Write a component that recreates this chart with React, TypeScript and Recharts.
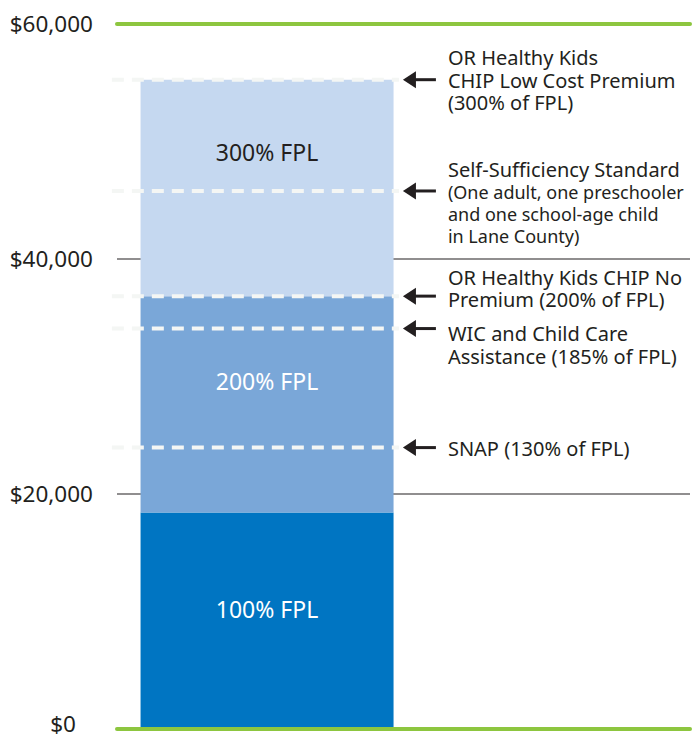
import { ComposedChart, Bar, XAxis, YAxis, CartesianGrid, ReferenceLine } from 'recharts'

// Income levels (family of three)
const FPL_LABELS = ['100% FPL', '200% FPL', '300% FPL']
const FPL_TOPS = [18420, 36840, 55260]
const Y_TICKS = [0, 20000, 40000, 60000]

// Program thresholds marked with dashed lines
const MARKER_VALUES = [55260, 45790, 36840, 34080, 23950]
const MARKER_TITLES = [
  ['OR Healthy Kids', 'CHIP Low Cost Premium', '(300% of FPL)'],
  ['Self-Sufficiency Standard'],
  ['OR Healthy Kids CHIP No', 'Premium (200% of FPL)'],
  ['WIC and Child Care', 'Assistance (185% of FPL)'],
  ['SNAP (130% of FPL)'],
]
const MARKER_NOTES = [
  [],
  ['(One adult, one preschooler', 'and one school-age child', 'in Lane County)'],
  [],
  [],
  [],
]

// layout only
const MARKER_FIRST_DY = [-22, -21, -19, 5, 1]
const SEGMENT_LABEL_DY = [-12, -23, -36]
const SEGMENT_COLORS = ['#0075c2', '#7aa7d8', '#c5d8f0']
const SEGMENT_TEXT = ['#ffffff', '#ffffff', '#231f20']
const BAR_X = 26.1
const DASH_FROM = -0.9
const DASH_TO = 49.2
const FONT = '"Noto Sans", "Open Sans", sans-serif'
const TEXT_COLOR = '#231f20'

const row: Record<string, number> = { x: BAR_X }
FPL_TOPS.forEach((top, i) => {
  row['s' + i] = top - (i > 0 ? FPL_TOPS[i - 1] : 0)
})
const chartData = [row]

const formatDollar = (v: number) => '$' + v.toLocaleString('en-US')

function YTick(props: any) {
  const { x, y, payload } = props
  // the $0 label sits further in (and higher, clear of the page edge) than the others
  const isZero = payload.value === 0
  return (
    <text
      x={x + (isZero ? -17 : 0)}
      y={y + (isZero ? -6 : -1)}
      textAnchor="end"
      dominantBaseline="central"
      fontSize={22.5}
      fill={TEXT_COLOR}
      fontFamily={FONT}
    >
      {formatDollar(payload.value)}
    </text>
  )
}

const segmentLabel = (i: number) => (props: any) => {
  const { x, y, width, height } = props
  return (
    <text
      x={x + width / 2}
      y={y + height / 2 + SEGMENT_LABEL_DY[i]}
      textAnchor="middle"
      dominantBaseline="central"
      fontSize={23}
      fill={SEGMENT_TEXT[i]}
      fontFamily={FONT}
    >
      {FPL_LABELS[i]}
    </text>
  )
}

const markerLabel = (i: number) => (props: any) => {
  const vb = props.viewBox
  const end = vb.x + vb.width
  const y = vb.y
  const tip = end + 4
  const textX = end + 49
  const titles = MARKER_TITLES[i]
  const notes = MARKER_NOTES[i]
  const firstY = y + MARKER_FIRST_DY[i]
  return (
    <g>
      <line x1={tip + 10} y1={y} x2={tip + 33} y2={y} stroke={TEXT_COLOR} strokeWidth={3} />
      <polygon points={`${tip},${y} ${tip + 13},${y - 8.5} ${tip + 13},${y + 8.5}`} fill={TEXT_COLOR} />
      {titles.map((t, k) => (
        <text
          key={'t' + k}
          x={textX}
          y={firstY + k * 22.5}
          dominantBaseline="central"
          fontSize={20}
          fill={TEXT_COLOR}
          fontFamily={FONT}
        >
          {t}
        </text>
      ))}
      {notes.map((t, k) => (
        <text
          key={'n' + k}
          x={textX}
          y={firstY + (titles.length + k) * 22}
          dominantBaseline="central"
          fontSize={18}
          fill={TEXT_COLOR}
          fontFamily={FONT}
        >
          {t}
        </text>
      ))}
    </g>
  )
}

export default function App() {
  return (
    <div style={{ position: 'absolute', left: 0, top: 0, background: '#fff' }}>
      <ComposedChart
        width={692}
        height={738}
        data={chartData}
        margin={{ top: 24, right: 2, bottom: 9, left: 0 }}
        style={{ fontFamily: FONT }}
      >
        <CartesianGrid vertical={false} stroke={TEXT_COLOR} strokeWidth={1.2} />
        <XAxis type="number" dataKey="x" domain={[0, 100]} hide />
        <YAxis
          type="number"
          domain={[0, 60000]}
          ticks={Y_TICKS}
          width={117}
          axisLine={false}
          tickLine={false}
          tickSize={0}
          tickMargin={24}
          tick={<YTick />}
          interval={0}
        />
        {FPL_TOPS.map((_, i) => (
          <Bar
            key={i}
            dataKey={'s' + i}
            stackId="fpl"
            fill={SEGMENT_COLORS[i]}
            barSize={253}
            isAnimationActive={false}
            label={segmentLabel(i)}
          />
        ))}
        <ReferenceLine y={0} stroke="#8dc63f" strokeWidth={4} strokeLinecap="round" />
        <ReferenceLine y={60000} stroke="#8dc63f" strokeWidth={4} strokeLinecap="round" />
        {MARKER_VALUES.map((v, i) => (
          <ReferenceLine
            key={i}
            segment={[
              { x: DASH_FROM, y: v },
              { x: DASH_TO, y: v },
            ]}
            ifOverflow="visible"
            stroke="#f4f6f4"
            strokeWidth={4}
            strokeDasharray="12 8"
            label={markerLabel(i)}
          />
        ))}
      </ComposedChart>
    </div>
  )
}
